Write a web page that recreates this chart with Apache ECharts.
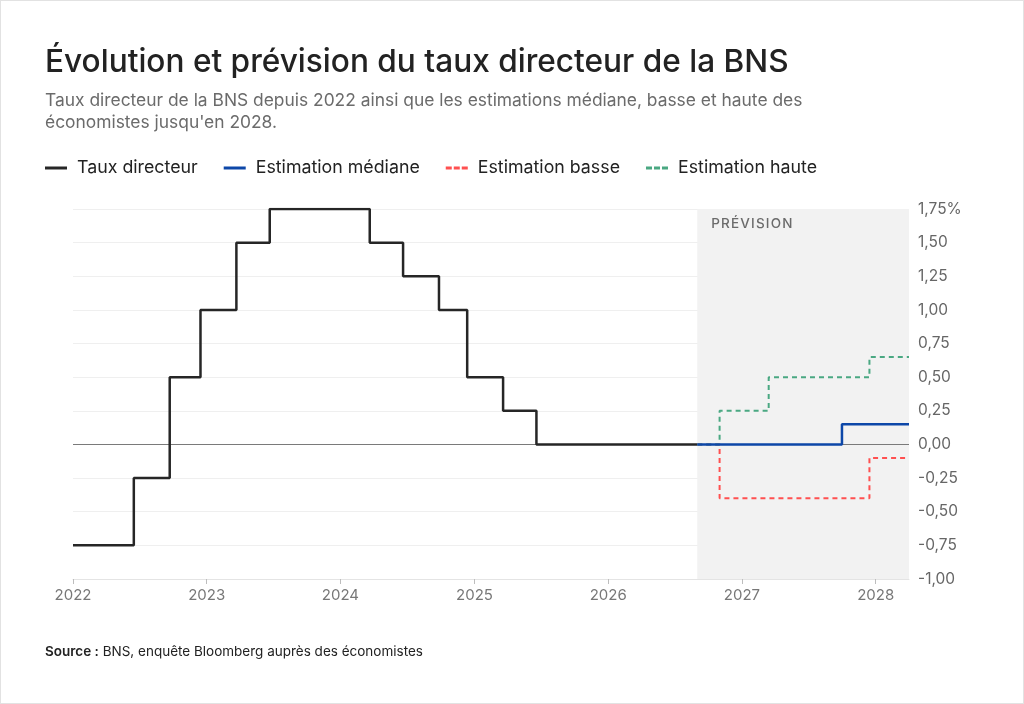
<!DOCTYPE html>
<html>
<head>
<meta charset="utf-8">
<script src="https://cdn.jsdelivr.net/npm/echarts@6/dist/echarts.min.js"></script>
<style>
  html, body { margin: 0; padding: 0; background: #fff; }
  #chart { width: 1024px; height: 704px; box-sizing: border-box; border: 1px solid #e2e2e2; }
</style>
</head>
<body>
<div id="chart"></div>
<script>
// Taux directeur BNS (dates de décision)
const rateDates = ["2022-01-01", "2022-06-16", "2022-09-22", "2022-12-15", "2023-03-23", "2023-06-22",
  "2024-03-21", "2024-06-20", "2024-09-26", "2024-12-12", "2025-03-20", "2025-06-19", "2026-09-01"];
const rateValues = [-0.75, -0.25, 0.5, 1.0, 1.5, 1.75, 1.5, 1.25, 1.0, 0.5, 0.25, 0.0, 0.0];

const medianDates = ["2026-09-01", "2027-10-01", "2028-04-01"];
const medianValues = [0.0, 0.15, 0.15];

const lowDates = ["2026-09-01", "2026-11-01", "2027-12-15", "2028-04-01"];
const lowValues = [0.0, -0.4, -0.1, -0.1];

const highDates = ["2026-09-01", "2026-11-01", "2027-03-15", "2027-12-15", "2028-04-01"];
const highValues = [0.0, 0.25, 0.5, 0.65, 0.65];

const forecastStart = "2026-09-01";
const axisStart = "2022-01-01";
const axisEnd = "2028-04-01";

const pairs = (d, v) => d.map((x, i) => [x, v[i]]);
const FONT = "Inter, 'Noto Sans', sans-serif";
const SOLID_ICON = "path://M0,0h22v3h-22z";
const DASH_ICON = "path://M0,0h6v3h-6z M8,0h6v3h-6z M16,0h6v3h-6z";

const chart = echarts.init(document.getElementById("chart"));

const option = {
  backgroundColor: "#fff",
  textStyle: { fontFamily: FONT },
  title: [
    {
      text: "Évolution et prévision du taux directeur de la BNS",
      left: 39, top: 40,
      textStyle: { fontSize: 31.6, fontWeight: 500, color: "#222", fontFamily: FONT }
    },
    {
      text: "Taux directeur de la BNS depuis 2022 ainsi que les estimations médiane, basse et haute des\néconomistes jusqu'en 2028.",
      left: 39, top: 84,
      textStyle: { fontSize: 17.4, fontWeight: 400, color: "#6b6b6b", lineHeight: 22, fontFamily: FONT }
    },
    {
      text: "{b|Source :} BNS, enquête Bloomberg auprès des économistes",
      left: 39, top: 639,
      textStyle: {
        fontSize: 13.5, fontWeight: 400, color: "#222", fontFamily: FONT,
        rich: { b: { fontSize: 13.5, fontWeight: 600, color: "#222", fontFamily: FONT } }
      }
    }
  ],
  legend: {
    left: 39, top: 153,
    itemWidth: 22, itemHeight: 3, itemGap: 26,
    textStyle: { fontSize: 17.8, color: "#222", fontFamily: FONT, padding: [0, 0, 0, 5] },
    data: [
      { name: "Taux directeur", icon: SOLID_ICON },
      { name: "Estimation médiane", icon: SOLID_ICON },
      { name: "Estimation basse", icon: DASH_ICON },
      { name: "Estimation haute", icon: DASH_ICON }
    ]
  },
  grid: { left: 72, right: 114, top: 208, bottom: 124 },
  xAxis: {
    type: "time",
    min: axisStart,
    max: axisEnd,
    minInterval: 365 * 24 * 3600 * 1000,
    maxInterval: 366 * 24 * 3600 * 1000,
    axisLine: { onZero: false, lineStyle: { color: "#e4e4e4" } },
    axisTick: { show: true, length: 5, lineStyle: { color: "#bdbdbd" } },
    splitLine: { show: false },
    axisLabel: {
      formatter: "{yyyy}",
      color: "#777", fontSize: 15, margin: 9, fontFamily: FONT,
      hideOverlap: false
    }
  },
  yAxis: {
    type: "value",
    position: "right",
    min: -1, max: 1.75, interval: 0.25,
    axisLine: { show: false },
    axisTick: { show: false },
    splitLine: { lineStyle: { color: "#efefef" } },
    axisLabel: {
      color: "#666", fontSize: 15.5, margin: 9, fontFamily: FONT,
      formatter: v => v.toFixed(2).replace(".", ",") + (Math.abs(v - 1.75) < 1e-9 ? "%" : "")
    }
  },
  series: [
    {
      name: "Taux directeur",
      type: "line",
      step: "end",
      showSymbol: false,
      z: 3,
      lineStyle: { color: "#262626", width: 2.5 },
      itemStyle: { color: "#262626" },
      data: pairs(rateDates, rateValues),
      markArea: {
        silent: true,
        itemStyle: { color: "#f2f2f2" },
        label: {
          show: true, position: "insideTopLeft", offset: [9, 3],
          color: "#6b6b6b", fontSize: 13.5, fontWeight: 500, fontFamily: FONT
        },
        data: [[{ name: "P R É V I S I O N".replace(/ /g, "\u200a"), xAxis: forecastStart }, { xAxis: axisEnd }]]
      },
      markLine: {
        silent: true,
        z: 2,
        symbol: "none",
        label: { show: false },
        lineStyle: { color: "#7a7a7a", width: 1, type: "solid" },
        data: [{ yAxis: 0 }]
      }
    },
    {
      name: "Estimation basse",
      type: "line",
      step: "end",
      showSymbol: false,
      z: 3,
      lineStyle: { color: "#ff5050", width: 2, type: [5, 4] },
      itemStyle: { color: "#ff5050" },
      data: pairs(lowDates, lowValues)
    },
    {
      name: "Estimation haute",
      type: "line",
      step: "end",
      showSymbol: false,
      z: 3,
      lineStyle: { color: "#4aa882", width: 2, type: [5, 4] },
      itemStyle: { color: "#4aa882" },
      data: pairs(highDates, highValues)
    },
    {
      name: "Estimation médiane",
      type: "line",
      step: "end",
      showSymbol: false,
      z: 10,
      lineStyle: { color: "#0d47a8", width: 2.5 },
      itemStyle: { color: "#0d47a8" },
      data: pairs(medianDates, medianValues)
    }
  ]
};

chart.setOption(option);
window.addEventListener("resize", () => chart.resize());
</script>
</body>
</html>
